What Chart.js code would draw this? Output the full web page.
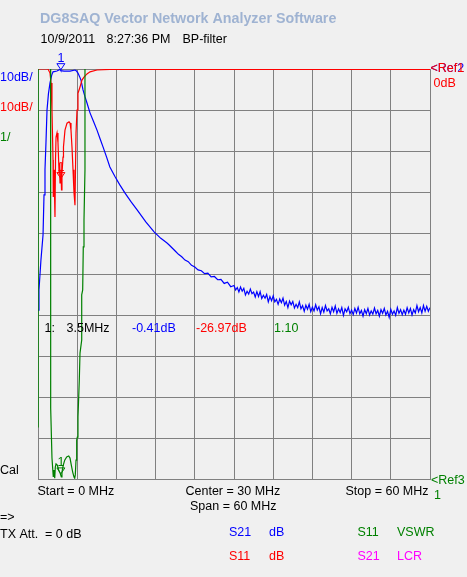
<!DOCTYPE html>
<html>
<head>
<meta charset="utf-8">
<style>
  html, body { margin: 0; padding: 0; background: #f0f0f0; }
  #wrap { width: 467px; height: 577px; }
</style>
<script src="https://cdn.jsdelivr.net/npm/chart.js@4.4.0/dist/chart.umd.min.js"></script>
</head>
<body>
<div id="wrap"><canvas id="vna" width="467" height="577"></canvas></div>
<script>
// S21 transmission, dB (10 dB/div, ref 0 dB at top)
const s21Freq = [0, 0.15, 0.45, 0.77, 0.92, 1.07, 1.22, 1.38, 1.6, 1.84, 2.1, 2.3, 2.9, 3.37, 3.5, 3.98, 4.9, 5.66, 5.9, 6.12, 6.35, 6.58, 6.89, 7.2, 7.5, 7.96, 8.5, 9.03, 9.5, 9.95, 10.5, 11.0, 11.8, 12.5, 13.3, 14.2, 15.2, 16.5, 17.8, 18.8, 19.7,
  20.0, 20.5, 21.0, 21.5, 22.0, 22.5, 23.0, 23.5, 24.0, 24.5, 25.0, 25.5, 26.0, 26.5, 27.0, 27.5, 28.0, 28.5, 29.0, 29.5,
  30.0, 30.25, 30.5, 30.75, 31.0, 31.25, 31.5, 31.75, 32.0, 32.25, 32.5, 32.75, 33.0, 33.25, 33.5, 33.75, 34.0, 34.25, 34.5, 34.75,
  35.0, 35.25, 35.5, 35.75, 36.0, 36.25, 36.5, 36.75, 37.0, 37.25, 37.5, 37.75, 38.0, 38.25, 38.5, 38.75, 39.0, 39.25, 39.5, 39.75,
  40.0, 40.25, 40.5, 40.75, 41.0, 41.25, 41.5, 41.75, 42.0, 42.25, 42.5, 42.75, 43.0, 43.25, 43.5, 43.75, 44.0, 44.25, 44.5, 44.75,
  45.0, 45.25, 45.5, 45.75, 46.0, 46.25, 46.5, 46.75, 47.0, 47.25, 47.5, 47.75, 48.0, 48.25, 48.5, 48.75, 49.0, 49.25, 49.5, 49.75,
  50.0, 50.25, 50.5, 50.75, 51.0, 51.25, 51.5, 51.75, 52.0, 52.25, 52.5, 52.75, 53.0, 53.25, 53.5, 53.75, 54.0, 54.25, 54.5, 54.75,
  55.0, 55.25, 55.5, 55.75, 56.0, 56.25, 56.5, 56.75, 57.0, 57.25, 57.5, 57.75, 58.0, 58.25, 58.5, 58.75, 59.0, 59.25, 59.5, 59.75, 60.0];
const s21dB = [-58.8, -53.9, -46.6, -40.5, -30.7, -24.5, -18, -10, -6, -3.4, -1.5, -0.7, -0.5, -0.1, -0.41, -0.5, -0.5, -0.25, -0.5, -1, -1.8, -2.7, -5.1, -6.8, -8.3, -10.7, -12.8, -14.9, -17, -19, -21.5, -23.9, -26.3, -28.2, -30.2, -32.3, -34.4, -37.3, -39.8, -41.3, -42.4,
  -42.8, -43.6, -44.4, -45.2, -45.8, -46.6, -47.0, -47.9, -48.3, -49.0, -49.2, -49.9, -49.8, -50.7, -50.6, -51.4, -51.3, -52.3, -52.0, -53.1,
  -52.8, -53.9, -53.3, -54.4, -53.2, -54.2, -53.5, -55.1, -54.2, -54.9, -53.7, -54.8, -54.4, -55.6, -54.3, -55.5, -54.3, -56.0, -55.2, -55.9,
  -55.0, -56.8, -55.5, -56.5, -55.3, -56.8, -56.2, -57.4, -56.1, -57.0, -55.9, -57.6, -56.7, -58.2, -56.6, -57.5, -56.7, -58.3, -57.4, -58.2,
  -56.8, -58.5, -57.7, -59.1, -57.6, -58.6, -57.4, -59.2, -58.1, -59.0, -57.5, -58.8, -58.0, -59.7, -58.2, -59.3, -57.7, -59.0, -58.5, -59.7,
  -58.1, -59.2, -57.8, -59.6, -58.5, -59.4, -58.2, -60.1, -58.5, -59.2, -58.1, -59.7, -58.8, -59.9, -58.4, -59.5, -58.1, -59.7, -58.9, -60.3,
  -58.7, -59.7, -58.4, -60.0, -59.0, -59.8, -58.3, -59.7, -58.9, -60.3, -58.7, -59.6, -58.4, -60.0, -59.1, -60.6, -58.6, -59.8, -59.0, -60.1,
  -58.2, -59.6, -58.7, -59.9, -58.8, -59.8, -58.2, -59.5, -58.4, -60.0, -58.7, -59.5, -57.7, -59.2, -58.2, -59.5, -57.7, -59.1, -57.9, -59.1, -58.2];

// S11 reflection, dB (10 dB/div, ref 0 dB at top)
const s11Freq = [0, 1.53, 1.84, 1.99, 2.14, 2.3, 2.34, 2.45, 2.6, 2.68, 2.76, 2.91, 3.06, 3.21, 3.29, 3.37, 3.52, 3.6, 3.67, 3.83, 3.9, 4.13, 4.44, 4.75, 4.9, 5.05, 5.2, 5.36, 5.51, 5.66, 5.74, 5.82, 5.97, 6.12, 6.43, 6.73, 7.04, 7.5, 7.96, 9.03, 11.0, 60];
const s11dB = [0, 0, -1, -3.4, -10, -22.2, -31.2, -24.6, -36.1, -22.2, -16.6, -15.6, -18, -24.6, -23.9, -27.8, -24.6, -29.5, -25.4, -21.5, -19, -14.9, -13.2, -12.9, -13.2, -14.9, -19, -24.6, -30.2, -33.2, -24.6, -15.6, -10, -5.9, -4.4, -2.7, -2, -1.2, -0.7, -0.25, -0.1, -0.1];

// S11 VSWR (1/div, ref 1 at bottom); 30 = off scale
const vswrFreq = [0, 0.02, 1.9, 1.94, 2.14, 2.34, 2.45, 2.56, 2.65, 2.76, 2.95, 3.17, 3.37, 3.57, 3.67, 3.87, 4.09, 4.39, 4.7, 4.9, 5.1, 5.31, 5.51, 5.62, 5.71, 5.82, 5.92, 6.02, 6.12, 6.32, 6.43, 6.69, 6.69, 6.84, 6.93, 7.04, 7.19, 7.19, 7.3, 60];
const s11Vswr = [2.27, 30, 30, 2.73, 1.51, 1.05, 1.22, 1.02, 1.29, 1.37, 1.34, 1.22, 1.15, 1.05, 1.17, 1.34, 1.46, 1.54, 1.56, 1.51, 1.34, 1.17, 1.05, 1.02, 1.1, 1.46, 1.95, 2.02, 2.51, 3.41, 4.07, 4.39, 5.49, 5.61, 6.66, 7.32, 8.54, 11.0, 30, 30];

// marker 1
const markerFreq = 3.5;
const markerS21 = -0.41;
const markerS11 = -26.97;
const markerVswr = 1.10;

const pts = (xs, ys) => xs.map((x, i) => ({ x: x, y: ys[i] }));

const GRID = "#808080";
const FONT = "12.5px 'Liberation Sans', Arial, sans-serif";

function triangle(ctx, x, y, color) {
  ctx.save();
  ctx.strokeStyle = color;
  ctx.lineWidth = 1;
  ctx.beginPath();
  ctx.moveTo(x - 4, y - 7);
  ctx.lineTo(x + 4, y - 7);
  ctx.lineTo(x, y - 1);
  ctx.closePath();
  ctx.stroke();
  ctx.fillStyle = color;
  ctx.font = FONT;
  ctx.textAlign = "center";
  ctx.fillText("1", x, y - 9);
  ctx.restore();
}

const vnaText = {
  id: "vnaText",
  afterDraw(chart) {
    const ctx = chart.ctx;
    const put = (s, x, y, color) => { ctx.fillStyle = color; ctx.fillText(s, x, y); };
    ctx.save();
    ctx.textBaseline = "alphabetic";
    ctx.textAlign = "left";

    ctx.font = "bold 14.3px 'Liberation Sans', Arial, sans-serif";
    put("DG8SAQ Vector Network Analyzer Software", 40, 23, "#9fb3d2");

    ctx.font = FONT;
    put("10/9/2011", 40.5, 43, "#000");
    put("8:27:36 PM", 106.5, 43, "#000");
    put("BP-filter", 182.5, 43, "#000");

    put("10dB/", 0, 80.5, "#0000ff");
    put("10dB/", 0, 110.5, "#ff0000");
    put("1/", 0, 140.5, "#008000");
    put("Cal", 0, 474, "#000");

    put("<Ref2", 430.5, 72, "#0000ff");
    put("<Ref1", 430.5, 72, "#ff0000");
    put("0dB", 433.5, 87, "#ff0000");
    put("<Ref3", 431, 484, "#008000");
    put("1", 434, 499, "#008000");

    put("1:", 44.5, 332, "#000");
    put("3.5MHz", 66.5, 332, "#000");
    put("-0.41dB", 132, 332, "#0000ff");
    put("-26.97dB", 196, 332, "#ff0000");
    put("1.10", 274, 332, "#008000");

    put("Start = 0 MHz", 37.5, 495, "#000");
    put("Center = 30 MHz", 185.5, 495, "#000");
    put("Span = 60 MHz", 190, 510, "#000");
    put("Stop = 60 MHz", 345.5, 495, "#000");

    put("=>", 0, 521, "#000");
    put("TX Att.", 0, 537.5, "#000");
    put("= 0 dB", 45, 537.5, "#000");

    put("S21", 229, 536, "#0000ff");
    put("dB", 269, 536, "#0000ff");
    put("S11", 229, 560, "#ff0000");
    put("dB", 269, 560, "#ff0000");
    put("S11", 357.5, 536, "#008000");
    put("VSWR", 397, 536, "#008000");
    put("S21", 357.5, 560, "#ff00ff");
    put("LCR", 397, 560, "#ff00ff");
    ctx.restore();

    const xs = chart.scales.x.getPixelForValue(markerFreq);
    triangle(ctx, xs, chart.scales.y.getPixelForValue(markerS21), "#0000ff");
    triangle(ctx, xs, chart.scales.y.getPixelForValue(markerS11), "#ff0000");
    triangle(ctx, xs, chart.scales.y2.getPixelForValue(markerVswr), "#008000");
  },
};

const lineSet = (label, data, color, axis, order, width) => ({
  label: label,
  data: data,
  yAxisID: axis,
  borderColor: color,
  borderWidth: width,
  pointRadius: 0,
  tension: 0,
  fill: false,
  order: order,
});

new Chart(document.getElementById("vna"), {
  type: "line",
  data: {
    datasets: [
      lineSet("S21 dB", pts(s21Freq, s21dB), "#0000ff", "y", 2, 1.2),
      lineSet("S11 dB", pts(s11Freq, s11dB), "#ff0000", "y", 1, 1.2),
      lineSet("S11 VSWR", pts(vswrFreq, s11Vswr), "#008000", "y2", 0, 1.2),
    ],
  },
  options: {
    responsive: false,
    animation: false,
    devicePixelRatio: 1,
    layout: { padding: { left: 38, right: 37, top: 69, bottom: 98 } },
    scales: {
      x: {
        type: "linear", min: 0, max: 60,
        ticks: { display: false, stepSize: 6 },
        grid: { color: GRID, drawTicks: false },
        border: { color: GRID },
      },
      y: {
        type: "linear", min: -100, max: 0,
        ticks: { display: false, stepSize: 10 },
        grid: { color: GRID, drawTicks: false },
        border: { color: GRID },
      },
      y2: { type: "linear", min: 1, max: 11, display: false },
    },
    plugins: {
      legend: { display: false },
      tooltip: { enabled: false },
    },
  },
  plugins: [vnaText],
});
</script>
</body>
</html>
